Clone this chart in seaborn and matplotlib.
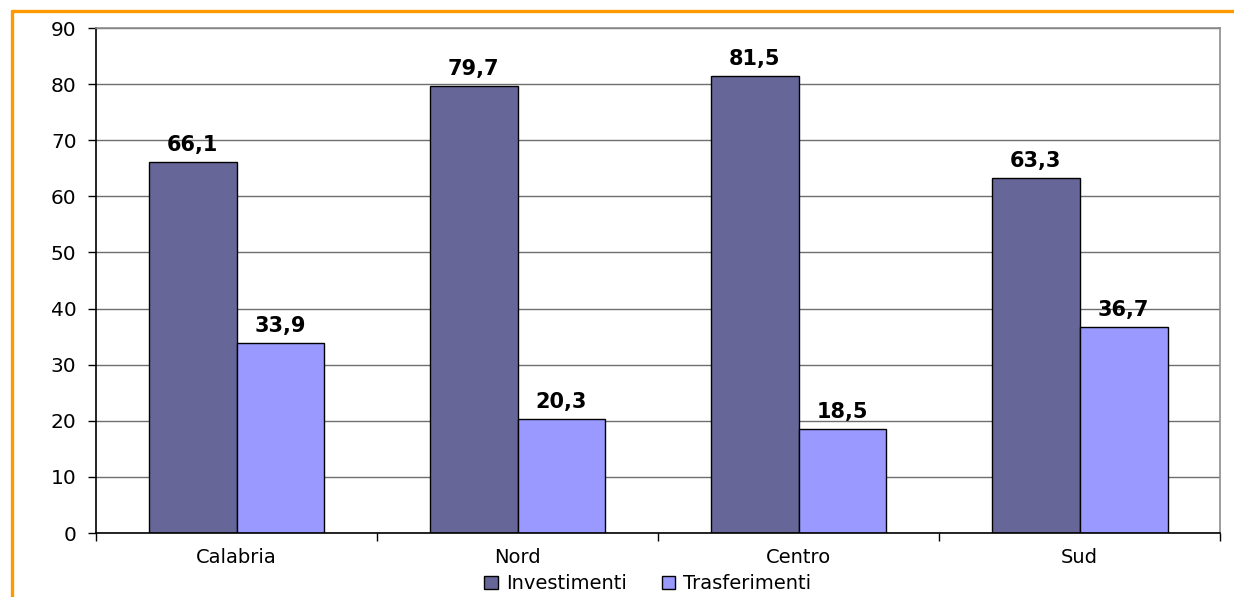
import pandas as pd
import seaborn as sns
import matplotlib.pyplot as plt
from matplotlib.lines import Line2D
from matplotlib.patches import Patch

regions = ['Calabria', 'Nord', 'Centro', 'Sud']
investimenti = [66.1, 79.7, 81.5, 63.3]
trasferimenti = [33.9, 20.3, 18.5, 36.7]
series = ['Investimenti', 'Trasferimenti']
colors = ['#666699', '#9999FF']

df = pd.DataFrame({
    'regione': regions * 2,
    'valore': investimenti + trasferimenti,
    'serie': [series[0]] * 4 + [series[1]] * 4,
})

sns.set_style('white')
plt.rcParams['font.family'] = ['DejaVu Sans']
plt.rcParams['text.color'] = 'black'
plt.rcParams['xtick.color'] = 'black'
plt.rcParams['ytick.color'] = 'black'
plt.rcParams['xtick.labelcolor'] = 'black'
plt.rcParams['ytick.labelcolor'] = 'black'

fig = plt.figure(figsize=(12.34, 5.97), dpi=100)
ax = fig.add_axes([0.0778, 0.1072, 0.9109, 0.8458])

sns.barplot(
    data=df, x='regione', y='valore', hue='serie',
    palette=colors, width=0.626, edgecolor='black', linewidth=1,
    saturation=1, ax=ax, legend=False
)

# value labels with comma decimals
for cont in ax.containers:
    labels = [f'{b.get_height():.1f}'.replace('.', ',') for b in cont]
    ax.bar_label(cont, labels=labels, padding=5, fontsize=15, fontweight='bold', color='black')

ax.set_xlim(-0.5, 3.5)
ax.set_ylim(0, 90)
ax.set_yticks(range(0, 91, 10))
ax.yaxis.grid(True, color='#6e6e6e', linewidth=1)
ax.set_axisbelow(True)
ax.set_xlabel('')
ax.set_ylabel('')

ax.set_xticks([0, 1, 2, 3])
ax.set_xticks([-0.5, 0.5, 1.5, 2.5, 3.5], minor=True)
ax.tick_params(axis='x', which='major', length=0, pad=11, labelsize=14, bottom=True)
ax.tick_params(axis='x', which='minor', length=6, width=1, color='black', direction='out', bottom=True)
ax.tick_params(axis='y', length=6, width=1, color='black', direction='out', labelsize=14.5, left=True, pad=8)

ax.spines['left'].set_color('black')
ax.spines['bottom'].set_color('black')
ax.spines['top'].set_color('#8c8c8c')
ax.spines['right'].set_color('#8c8c8c')
for s in ax.spines.values():
    s.set_linewidth(1.2)

handles = [Patch(facecolor=c, edgecolor='black', linewidth=1) for c in colors]
fig.legend(handles, series, loc='center', bbox_to_anchor=(0.525, 0.022), ncol=2,
           frameon=False, fontsize=14, handlelength=0.7, handleheight=0.7,
           handletextpad=0.4, columnspacing=1.8, borderpad=0)

# orange frame around chart
fig.add_artist(Line2D([0.0097, 0.0097], [0.0, 0.9816], color='#FF9900', linewidth=2.4))
fig.add_artist(Line2D([0.0097, 1.0], [0.9816, 0.9816], color='#FF9900', linewidth=2.4))

fig.savefig('out.png', dpi=100)
